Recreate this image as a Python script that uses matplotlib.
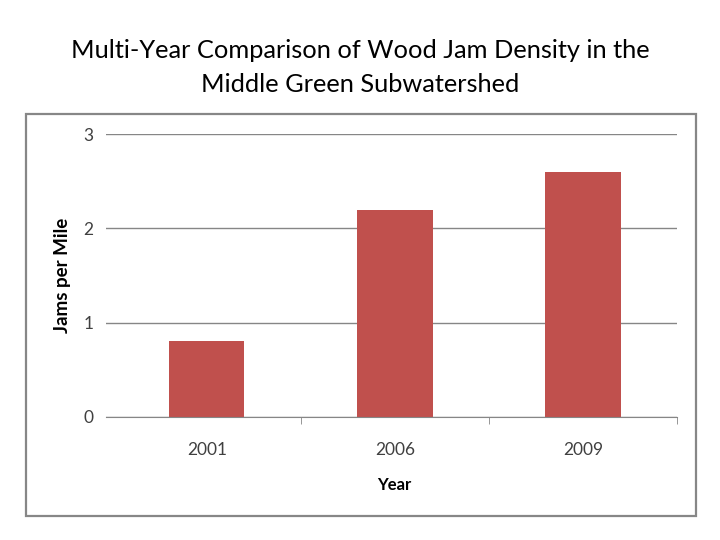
import matplotlib
matplotlib.use("Agg")
import matplotlib.pyplot as plt
from matplotlib.patches import Rectangle

years = ["2001", "2006", "2009"]
jams_per_mile = [0.8, 2.2, 2.6]
y_ticks = [0, 1, 2, 3]

plt.rcParams['font.family'] = ['Lato', 'DejaVu Sans']

fig = plt.figure(figsize=(7.2, 5.4), dpi=100)
fig.patch.set_facecolor('white')

# outer chart frame
fig.patches.append(Rectangle((26/720, 1-516/540), (696-26)/720, (516-114)/540,
                             transform=fig.transFigure, fill=False,
                             edgecolor='#878787', linewidth=1.6))

fig.text(0.5, 1-51/540, "Multi-Year Comparison of Wood Jam Density in the",
         ha='center', va='center', fontsize=18.3, color='black')
fig.text(0.5, 1-85/540, "Middle Green Subwatershed",
         ha='center', va='center', fontsize=18.3, color='black')

ax = fig.add_axes([106/720, 1-416.7/540, (677-106)/720, (416.7-134.3)/540])
x = list(range(len(years)))
ax.bar(x, jams_per_mile, width=0.4, color='#C0504D', zorder=3)

ax.set_xlim(-0.536, len(years) - 0.5)
ax.set_ylim(0, 3)
ax.set_yticks(y_ticks)
ax.set_yticklabels([str(t) for t in y_ticks])
ax.yaxis.grid(True, color='#868686', linewidth=1)
ax.set_axisbelow(True)

for s in ['top', 'right', 'left']:
    ax.spines[s].set_visible(False)
ax.spines['bottom'].set_color('#868686')
ax.spines['bottom'].set_zorder(4)

ax.set_xticks(x)
ax.set_xticklabels(years)
ax.tick_params(axis='x', length=0, pad=18, labelsize=12.5, labelcolor='#404040')
ax.tick_params(axis='y', length=0, pad=9, labelsize=12.5, labelcolor='#404040')
ax.set_xticks([0.5, 1.5, 2.5], minor=True)
ax.tick_params(axis='x', which='minor', length=5, color='#868686', direction='out')

ax.set_xlabel("Year", fontsize=12, fontweight='bold', labelpad=14)
ax.xaxis.label.set_x((394 - 106) / 571)
ax.set_ylabel("Jams per Mile", fontsize=13.5, fontweight='bold', labelpad=9)

fig.savefig("out.png", dpi=100, facecolor='white')
